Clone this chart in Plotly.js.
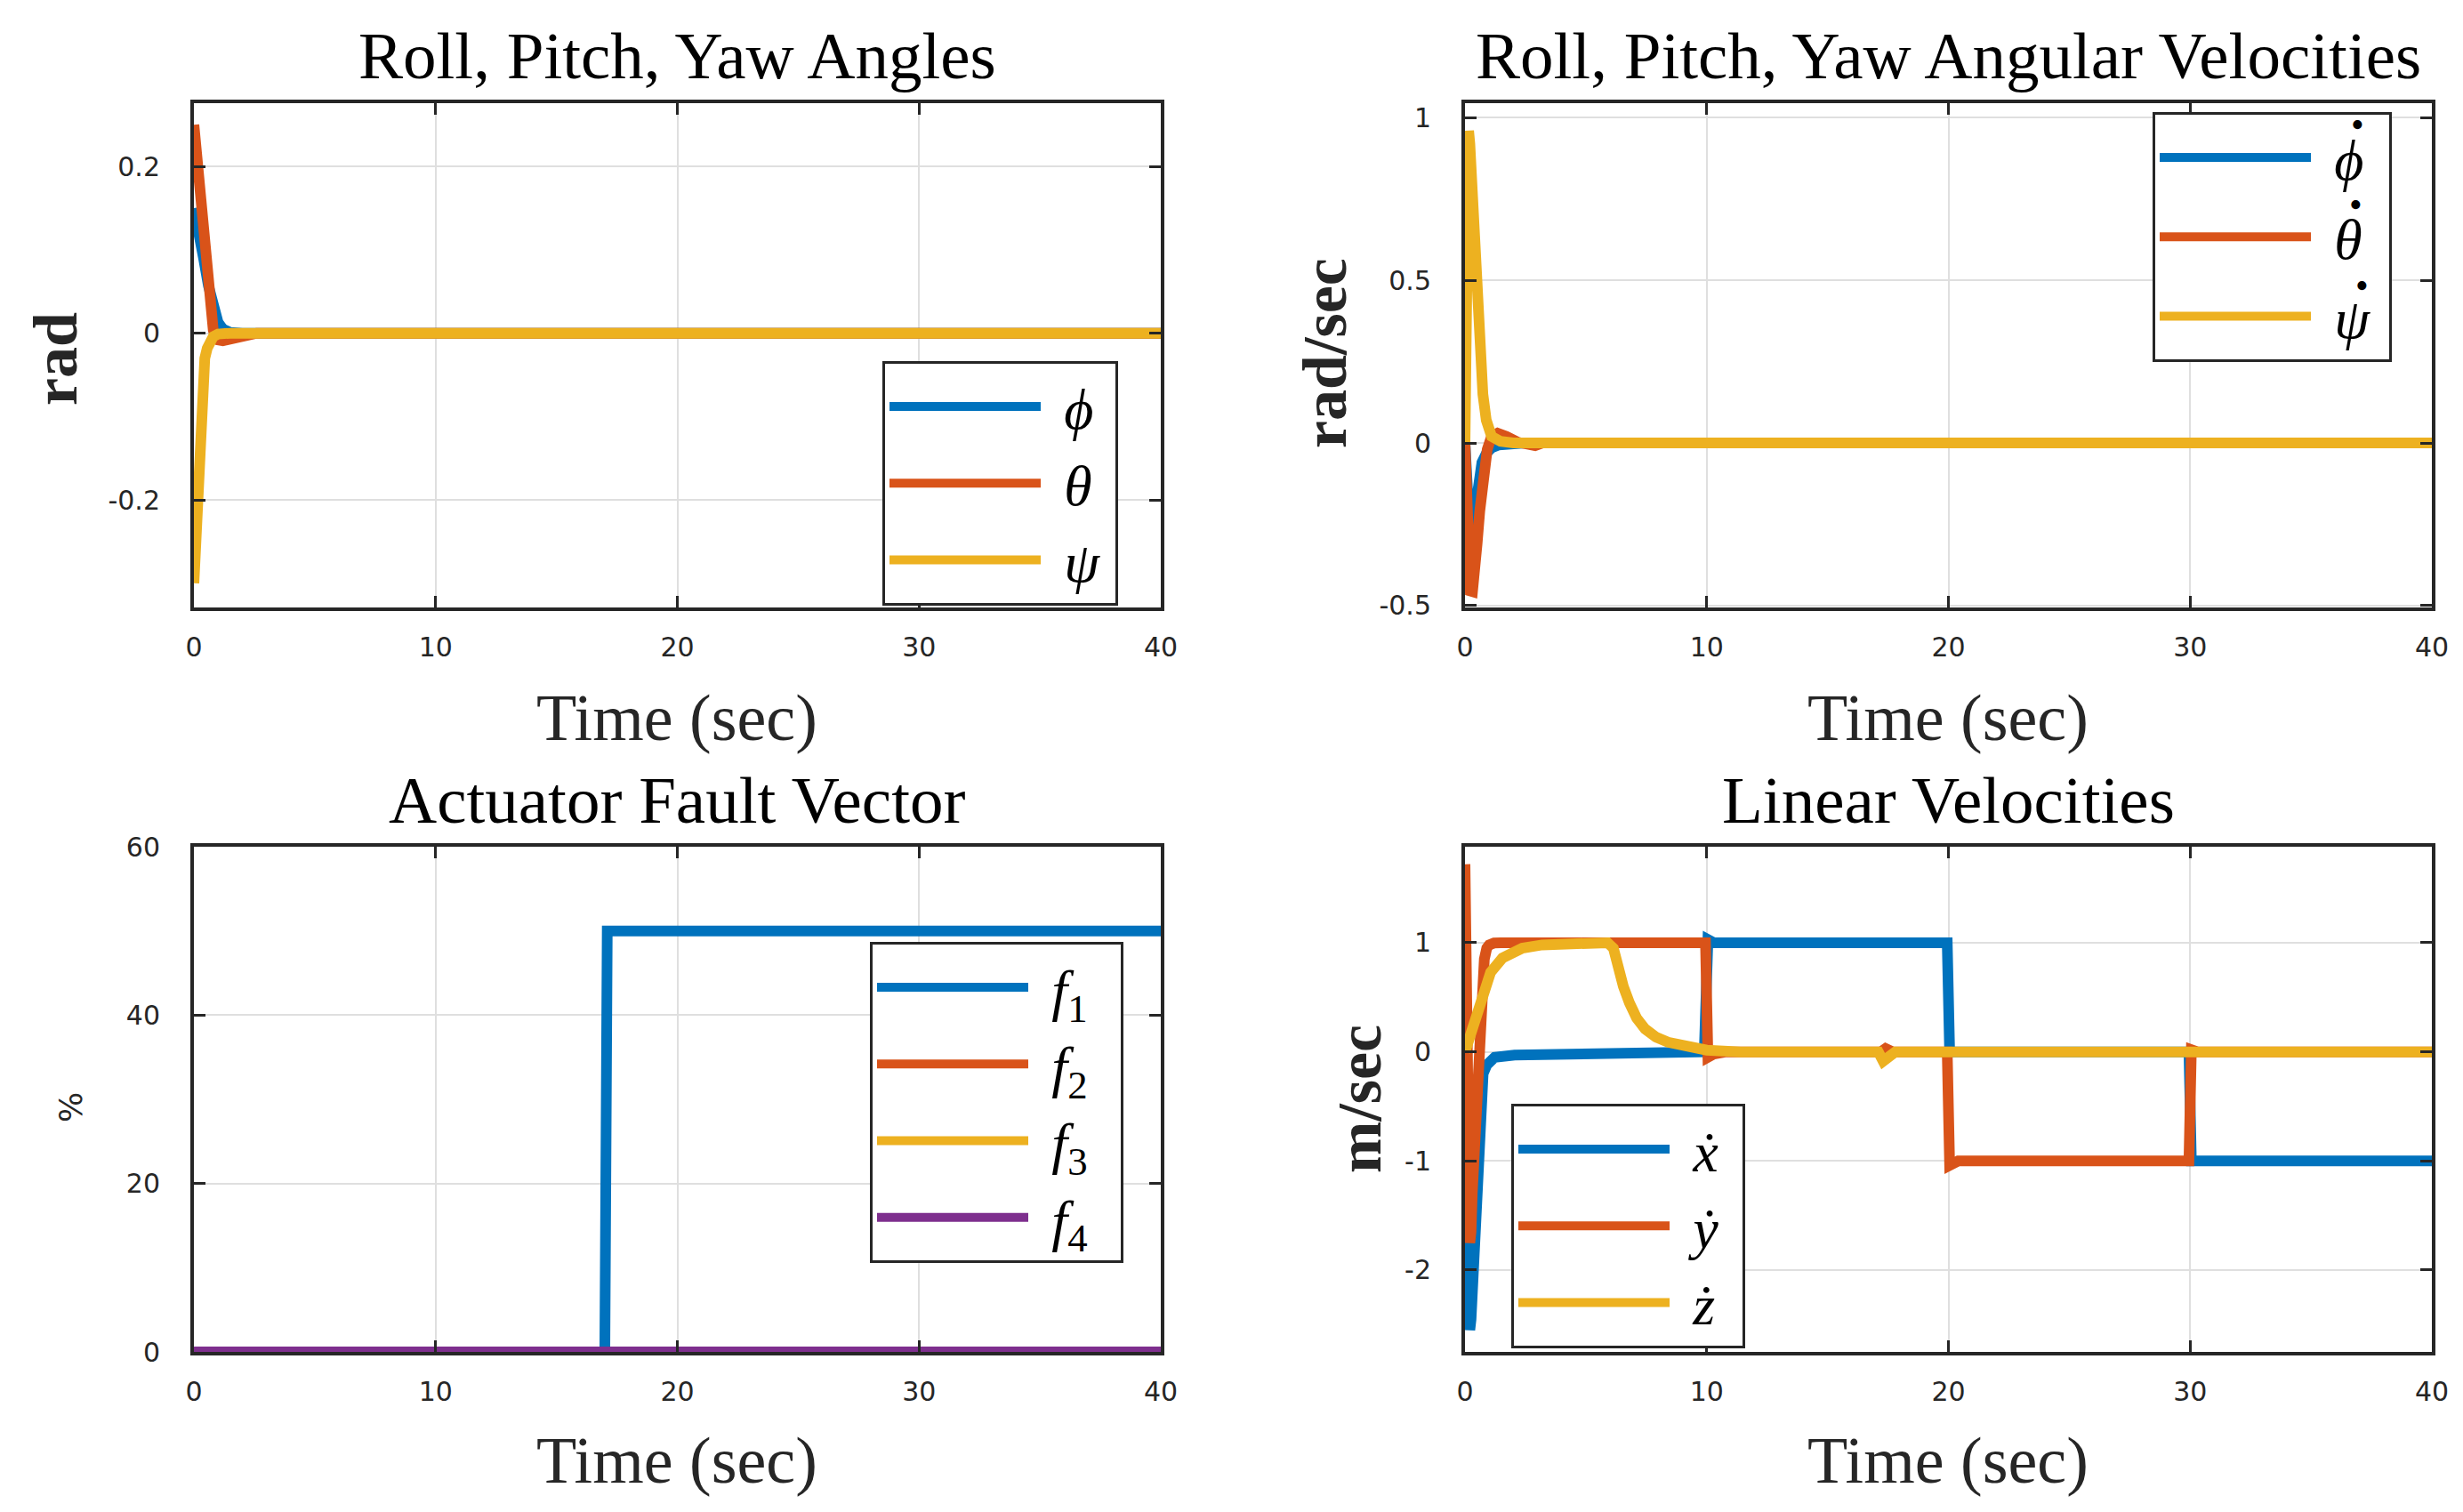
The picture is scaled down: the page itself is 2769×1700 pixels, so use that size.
<!DOCTYPE html>
<html><head><meta charset="utf-8">
<script src="https://cdn.plot.ly/plotly-3.0.1.min.js"></script>
<style>html,body{margin:0;padding:0;background:#fff}#plot{width:2769px;height:1700px}</style>
</head><body><div id="plot"></div>
<script>
// ---------- data ----------
// Roll, Pitch, Yaw angles (rad)
const tPhi = [0,0.2,0.4,0.6,0.8,1.0,1.2,1.5,2,40];
const phiVals = [0.15,0.125,0.09,0.057,0.03,0.013,0.005,0.001,0,0];
const tTheta = [0,0.1,0.2,0.3,0.4,0.5,0.6,0.7,0.8,0.9,1.0,1.2,1.5,1.8,2.2,2.6,40];
const thetaVals = [0.25,0.22,0.175,0.13,0.097,0.068,0.042,0.02,0.004,-0.005,-0.008,-0.009,-0.007,-0.004,-0.001,0,0];
const tPsi = [0,0.05,0.1,0.15,0.2,0.25,0.3,0.35,0.45,0.55,0.65,0.8,1.0,1.5,40];
const psiVals = [-0.3,-0.27,-0.225,-0.185,-0.13,-0.1,-0.072,-0.052,-0.03,-0.018,-0.01,-0.004,-0.001,0,0];

// Angular velocities (rad/sec)
const tPhiDot = [0,0.1,0.2,0.3,0.4,0.5,0.7,0.9,1.1,1.4,2,2.5,40];
const phiDotVals = [0,-0.2,-0.28,-0.27,-0.2,-0.13,-0.06,-0.03,-0.015,-0.006,-0.001,0,0];
const tThetaDot = [0,0.05,0.1,0.15,0.22,0.31,0.4,0.5,0.61,0.74,0.92,1.1,1.35,1.72,2.2,2.9,3.2,40];
const thetaDotVals = [0,-0.2,-0.36,-0.43,-0.455,-0.457,-0.41,-0.31,-0.21,-0.1,-0.02,0.02,0.03,0.02,0.002,-0.008,0,0];
const tPsiDot = [0,0.03,0.06,0.1,0.15,0.2,0.25,0.31,0.39,0.52,0.64,0.74,0.88,1.0,1.1,1.47,2,40];
const psiDotVals = [0,0.3,0.65,0.88,0.96,0.92,0.85,0.75,0.58,0.41,0.24,0.15,0.07,0.035,0.02,0.005,0,0];

// Actuator fault vector (%)
const tF1 = [0,17,17.1,40];
const f1Vals = [0,0,50,50];
const tF = [0,40];
const f2Vals = [0,0];
const f3Vals = [0,0];
const f4Vals = [0,0];

// Linear velocities (m/sec)
const tXd = [0,0.05,0.1,0.15,0.2,0.25,0.33,0.49,0.65,0.75,0.9,1.23,2.05,5,9.9,10.05,10.3,19.95,20.05,29.95,30.05,40];
const xdVals = [0,-0.9,-1.8,-2.35,-2.55,-2.45,-2.09,-1.15,-0.37,-0.2,-0.12,-0.05,-0.03,-0.01,0,1.03,1,1,0,0,-1,-1];
const tYd = [0,0.05,0.1,0.15,0.2,0.25,0.3,0.4,0.5,0.6,0.7,0.8,0.9,1.0,1.2,1.5,9.95,10.05,10.3,10.8,17.2,17.4,17.7,19.95,20.05,20.4,29.95,30.05,30.3,40];
const ydVals = [1.72,0.9,-0.1,-1.1,-1.75,-1.65,-1.3,-0.83,-0.37,0.09,0.55,0.85,0.95,0.98,0.997,1,1,-0.05,-0.02,0,0,0.03,0,0,-1.04,-1,-1,0.02,0,0];
const tZd = [0,0.25,0.49,0.74,1.06,1.55,2.37,3.19,4.5,5.9,6.14,6.3,6.55,6.8,7.1,7.45,7.9,8.4,9.1,10,11.4,17.1,17.3,17.5,17.8,40];
const zdVals = [0,0.17,0.39,0.57,0.73,0.86,0.95,0.98,0.995,1.0,0.95,0.79,0.6,0.45,0.31,0.21,0.135,0.088,0.047,0.016,0,0,-0.085,-0.04,0,0];

// ticks and labels
const xTicks = [0,10,20,30,40];
const xTickText = ['0','10','20','30','40'];
const y1Ticks = [-0.2,0,0.2];
const y1TickText = ['-0.2','0','0.2'];
const y2Ticks = [-0.5,0,0.5,1];
const y2TickText = ['-0.5','0','0.5','1'];
const y3Ticks = [0,20,40,60];
const y3TickText = ['0','20','40','60'];
const y4Ticks = [-2,-1,0,1];
const y4TickText = ['-2','-1','0','1'];

const titles = ['Roll, Pitch, Yaw Angles','Roll, Pitch, Yaw Angular Velocities','Actuator Fault Vector','Linear Velocities'];
const xLabel = 'Time (sec)';
const yLabels = ['rad','rad/sec','%','m/sec'];
// top-right legend letters carry a time-derivative dot drawn above them
const legendNames = [
  ['<i>ϕ</i>\u2009','<i>θ</i>\u2009','<i>ψ</i>\u2009'],
  ['<i>ϕ</i>\u2005','<i>θ</i>\u2005','<i>ψ</i>\u2005'],
  ['<i>f</i><sub>1</sub>\u2002','<i>f</i><sub>2</sub>\u2002','<i>f</i><sub>3</sub>\u2002','<i>f</i><sub>4</sub>\u2002'],
  ['<i>ẋ</i>\u2004','<i>ẏ</i>\u2004','<i>ż</i>\u2004']
];
const derivDot = '•';

// ---------- styling ----------
const C = ['#0072BD','#D95319','#EDB120','#7E2F8E'];
const LW = 12;
const W = 2769, H = 1700;
const px = v => v / W;
const py = v => 1 - v / H;
const GAP = '\u2004';

function tr(x, y, name, color, xa, ya, leg, grp) {
  return {x: x, y: y, name: GAP + name, type: 'scatter', mode: 'lines',
    line: {color: color, width: LW}, xaxis: xa, yaxis: ya, legend: leg, legendgroup: grp};
}

const data = [
  tr(tPhi, phiVals, legendNames[0][0], C[0], 'x', 'y', 'legend', 'a1'),
  tr(tTheta, thetaVals, legendNames[0][1], C[1], 'x', 'y', 'legend', 'a1'),
  tr(tPsi, psiVals, legendNames[0][2], C[2], 'x', 'y', 'legend', 'a1'),
  tr(tPhiDot, phiDotVals, legendNames[1][0], C[0], 'x2', 'y2', 'legend2', 'b1'),
  tr(tThetaDot, thetaDotVals, legendNames[1][1], C[1], 'x2', 'y2', 'legend2', 'b2'),
  tr(tPsiDot, psiDotVals, legendNames[1][2], C[2], 'x2', 'y2', 'legend2', 'b3'),
  tr(tF1, f1Vals, legendNames[2][0], C[0], 'x3', 'y3', 'legend3', 'c1'),
  tr(tF, f2Vals, legendNames[2][1], C[1], 'x3', 'y3', 'legend3', 'c1'),
  tr(tF, f3Vals, legendNames[2][2], C[2], 'x3', 'y3', 'legend3', 'c1'),
  tr(tF, f4Vals, legendNames[2][3], C[3], 'x3', 'y3', 'legend3', 'c1'),
  tr(tXd, xdVals, legendNames[3][0], C[0], 'x4', 'y4', 'legend4', 'd1'),
  tr(tYd, ydVals, legendNames[3][1], C[1], 'x4', 'y4', 'legend4', 'd1'),
  tr(tZd, zdVals, legendNames[3][2], C[2], 'x4', 'y4', 'legend4', 'd1')
];

const tickFont = {family: 'DejaVu Sans', size: 30, color: '#262626'};
function xax(dom, anchor) {
  return {domain: dom, anchor: anchor, range: [0, 40], tickvals: xTicks, ticktext: xTickText,
    showgrid: true, gridcolor: '#dfdfdf', gridwidth: 2, zeroline: false,
    showline: true, linecolor: '#262626', linewidth: 4, mirror: 'ticks',
    ticks: 'inside', ticklen: 13, tickwidth: 3, tickcolor: '#262626',
    tickfont: tickFont, ticklabelstandoff: 15};
}
function yax(dom, anchor, range, tv, tt) {
  return {domain: dom, anchor: anchor, range: range, tickvals: tv, ticktext: tt,
    showgrid: true, gridcolor: '#dfdfdf', gridwidth: 2, zeroline: false,
    showline: true, linecolor: '#262626', linewidth: 4, mirror: 'ticks',
    ticks: 'inside', ticklen: 13, tickwidth: 3, tickcolor: '#262626',
    tickfont: tickFont, ticklabelstandoff: 28};
}
const xL = [px(218), px(1305)], xR = [px(1647), px(2734)];
const yT = [py(683), py(116)], yB = [py(1520), py(952)];

function legendAt(x, y, gap) {
  return {x: px(x), y: py(y), xanchor: 'left', yanchor: 'top', xref: 'paper', yref: 'paper',
    bgcolor: '#ffffff', bordercolor: '#262626', borderwidth: 3,
    font: {family: 'Liberation Serif', size: 64, color: '#000'},
    itemwidth: 170, tracegroupgap: gap, traceorder: 'grouped'};
}

const titleFont = {family: 'Liberation Serif', size: 75, color: '#000'};
const labelFont = {family: 'Liberation Serif', size: 74, color: '#262626'};
const yLabelFont = {family: 'Liberation Serif', size: 70, color: '#262626', weight: 'bold'};
const dotFont = {family: 'Liberation Serif', size: 42, color: '#000'};
function ann(text, x, y, font, angle) {
  return {text: text, x: px(x), y: py(y), xref: 'paper', yref: 'paper',
    xanchor: 'center', yanchor: 'middle', showarrow: false, font: font, textangle: angle || 0};
}

const layout = {
  width: W, height: H, margin: {l: 0, r: 0, t: 0, b: 0},
  paper_bgcolor: '#fff', plot_bgcolor: '#fff', showlegend: true,
  xaxis: xax(xL, 'y'), yaxis: yax(yT, 'x', [-0.329, 0.276], y1Ticks, y1TickText),
  xaxis2: xax(xR, 'y2'), yaxis2: yax(yT, 'x2', [-0.506, 1.045], y2Ticks, y2TickText),
  xaxis3: xax(xL, 'y3'), yaxis3: yax(yB, 'x3', [0, 60], y3Ticks, y3TickText),
  xaxis4: xax(xR, 'y4'), yaxis4: yax(yB, 'x4', [-2.75, 1.88], y4Ticks, y4TickText),
  legend: legendAt(992, 406, 0),
  legend2: legendAt(2420, 126, 3),
  legend3: legendAt(978, 1059, 0),
  legend4: legendAt(1699, 1241, 0),
  annotations: [
    ann(titles[0], 761, 62, titleFont), ann(titles[1], 2190, 62, titleFont),
    ann(titles[2], 761, 899, titleFont), ann(titles[3], 2190, 899, titleFont),
    ann(xLabel, 761, 807, labelFont), ann(xLabel, 2190, 807, labelFont),
    ann(xLabel, 761, 1642, labelFont), ann(xLabel, 2190, 1642, labelFont),
    ann(yLabels[0], 62, 403, yLabelFont, -90), ann(yLabels[1], 1489, 397, yLabelFont, -90),
    ann(yLabels[2], 79, 1245, {family: 'DejaVu Sans', size: 36, color: '#262626'}, -90),
    ann(yLabels[3], 1528, 1236, yLabelFont, -90),
    ann(derivDot, 2650, 140, dotFont), ann(derivDot, 2648, 230, dotFont), ann(derivDot, 2655, 321, dotFont)
  ]
};

Plotly.newPlot('plot', data, layout, {displayModeBar: false, staticPlot: true});
</script>
</body></html>
